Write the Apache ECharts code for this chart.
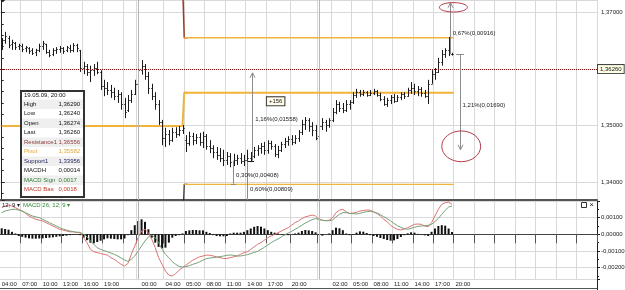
<!DOCTYPE html>
<html><head><meta charset="utf-8">
<script src="https://cdn.jsdelivr.net/npm/echarts@6/dist/echarts.min.js"></script>
<style>html,body{margin:0;padding:0;background:#fff}#c{width:625px;height:290px}</style>
</head><body><div id="c"></div>
<script>
// ---------- data ----------
const N_SLOTS = 175;                       // half-hour slots on the time axis
const gridIdx = [6,12,18,24,30,36,40,48,54,60,66,72,78,85,93,97,103,109,115,121,127,133,139,145,151,157,163,169];
const labelIdx = [0,6,12,18,24,30,41,48,54,60,66,72,78,85,97,103,109,115,121,127,133];
const labelText = ['04:00','07:00','10:00','13:00','16:00','19:00','00:00','04:00','05:00','08:00','11:00','14:00','17:00','20:00','02:00','05:00','08:00','11:00','14:00','17:00','20:00'];
const daySepIdx = [40, 93];

// OHLC bars: [open, close, low, high]
const ohlc = [
[1.3637,1.3652,1.3634,1.3655],[1.3652,1.3659,1.3645,1.3666],[1.3655,1.3643,1.3637,1.3659],[1.3645,1.3648,1.3634,1.3652],[1.3646,1.3639,1.3634,1.3648],
[1.3641,1.3643,1.3634,1.3645],[1.3641,1.3636,1.3630,1.3645],[1.3637,1.3639,1.3630,1.3641],[1.3637,1.3632,1.3627,1.3639],[1.3634,1.3629,1.3625,1.3637],
[1.3630,1.3634,1.3623,1.3636],[1.3634,1.3641,1.3630,1.3645],[1.3641,1.3646,1.3634,1.3650],[1.3645,1.3630,1.3627,1.3645],[1.3630,1.3625,1.3621,1.3634],
[1.3627,1.3634,1.3623,1.3637],[1.3634,1.3636,1.3627,1.3639],[1.3636,1.3637,1.3629,1.3641],[1.3637,1.3632,1.3627,1.3639],[1.3634,1.3639,1.3630,1.3641],
[1.3637,1.3634,1.3629,1.3643],[1.3634,1.3643,1.3630,1.3646],[1.3643,1.3637,1.3630,1.3645],[1.3634,1.3602,1.3595,1.3634],[1.3602,1.3606,1.3591,1.3613],
[1.3606,1.3595,1.3588,1.3609],[1.3595,1.3598,1.3577,1.3606],[1.3598,1.3602,1.3588,1.3609],[1.3602,1.3595,1.3591,1.3613],[1.3595,1.3570,1.3563,1.3598],
[1.3570,1.3567,1.3552,1.3581],[1.3567,1.3563,1.3554,1.3577],[1.3563,1.3559,1.3549,1.3572],[1.3559,1.3552,1.3545,1.3567],[1.3552,1.3556,1.3540,1.3563],
[1.3556,1.3538,1.3528,1.3559],[1.3538,1.3524,1.3513,1.3549],[1.3528,1.3545,1.3524,1.3554],[1.3545,1.3556,1.3540,1.3563],[1.3556,1.3574,1.3554,1.3581],
[1.3574,1.3598,1.3572,1.3606],[1.3598,1.3606,1.3590,1.3616],[1.3606,1.3588,1.3581,1.3609],[1.3588,1.3567,1.3556,1.3595],[1.3567,1.3552,1.3545,1.3574],
[1.3552,1.3538,1.3528,1.3559],[1.3538,1.3506,1.3501,1.3545],[1.3506,1.3478,1.3465,1.3510],[1.3478,1.3485,1.3462,1.3496],[1.3485,1.3474,1.3465,1.3492],
[1.3474,1.3489,1.3471,1.3496],[1.3489,1.3485,1.3478,1.3497],[1.3485,1.3492,1.3481,1.3499],[1.3492,1.3496,1.3485,1.3501],[1.3474,1.3469,1.3453,1.3483],
[1.3469,1.3481,1.3464,1.3489],[1.3481,1.3474,1.3465,1.3487],[1.3474,1.3480,1.3467,1.3485],[1.3480,1.3471,1.3464,1.3487],[1.3471,1.3481,1.3460,1.3489],
[1.3481,1.3464,1.3457,1.3485],[1.3464,1.3460,1.3451,1.3474],[1.3460,1.3453,1.3442,1.3465],[1.3453,1.3448,1.3439,1.3462],[1.3448,1.3442,1.3435,1.3460],
[1.3442,1.3439,1.3428,1.3457],[1.3439,1.3446,1.3430,1.3453],[1.3446,1.3435,1.3426,1.3451],[1.3435,1.3439,1.3428,1.3450],[1.3439,1.3442,1.3430,1.3448],
[1.3442,1.3437,1.3432,1.3451],[1.3437,1.3439,1.3428,1.3448],[1.3439,1.3442,1.3434,1.3457],[1.3442,1.3446,1.3435,1.3453],[1.3446,1.3457,1.3442,1.3462],
[1.3457,1.3460,1.3446,1.3465],[1.3460,1.3464,1.3450,1.3469],[1.3464,1.3457,1.3448,1.3471],[1.3457,1.3469,1.3450,1.3474],[1.3469,1.3464,1.3457,1.3473],
[1.3464,1.3450,1.3444,1.3467],[1.3450,1.3457,1.3442,1.3464],[1.3457,1.3467,1.3453,1.3471],[1.3467,1.3473,1.3460,1.3478],[1.3473,1.3476,1.3464,1.3481],
[1.3476,1.3471,1.3465,1.3483],[1.3471,1.3478,1.3467,1.3483],[1.3478,1.3489,1.3471,1.3492],[1.3489,1.3503,1.3483,1.3510],[1.3503,1.3510,1.3492,1.3515],
[1.3510,1.3499,1.3489,1.3513],[1.3499,1.3492,1.3481,1.3506],[1.3492,1.3478,1.3474,1.3501],[1.3481,1.3499,1.3478,1.3504],[1.3499,1.3506,1.3492,1.3513],
[1.3506,1.3501,1.3489,1.3510],[1.3501,1.3510,1.3496,1.3513],[1.3510,1.3524,1.3506,1.3531],[1.3524,1.3538,1.3520,1.3545],[1.3538,1.3531,1.3524,1.3542],
[1.3531,1.3528,1.3522,1.3540],[1.3528,1.3538,1.3524,1.3545],[1.3538,1.3542,1.3528,1.3545],[1.3542,1.3554,1.3538,1.3559],[1.3554,1.3559,1.3549,1.3565],
[1.3559,1.3556,1.3551,1.3563],[1.3556,1.3559,1.3552,1.3563],[1.3559,1.3554,1.3551,1.3561],[1.3554,1.3558,1.3552,1.3563],[1.3558,1.3561,1.3554,1.3565],
[1.3561,1.3554,1.3551,1.3563],[1.3554,1.3547,1.3543,1.3558],[1.3547,1.3538,1.3535,1.3552],[1.3538,1.3545,1.3533,1.3549],[1.3545,1.3551,1.3538,1.3554],
[1.3551,1.3543,1.3540,1.3556],[1.3543,1.3551,1.3542,1.3554],[1.3551,1.3556,1.3545,1.3559],[1.3556,1.3552,1.3547,1.3559],[1.3552,1.3563,1.3551,1.3567],
[1.3563,1.3567,1.3556,1.3577],[1.3567,1.3561,1.3554,1.3574],[1.3561,1.3565,1.3552,1.3570],[1.3565,1.3558,1.3551,1.3568],[1.3558,1.3552,1.3549,1.3563],
[1.3552,1.3574,1.3538,1.3581],[1.3574,1.3591,1.3574,1.3598],[1.3591,1.3595,1.3581,1.3602],[1.3595,1.3613,1.3593,1.3620],[1.3613,1.3627,1.3606,1.3634],
[1.3627,1.3634,1.3620,1.3637],[1.3634,1.3630,1.3623,1.3657],[1.36274,1.3626,1.3624,1.3629]
];

// daily pivot levels: [previous day, current day]
const dayStart = [0, 54];
const r1Levels = [1.3760, 1.36556];
const pivotLevels = [1.3499, 1.35582];
const s1Levels = [1.3310, 1.33956];

// MACD (units of 0.0001)
const MACD_UNIT = 1e-4;
const macdBase = [
16,17,17.5,17,16,15,14,12.5,11,10, 9,8.5,8,7,6,5,4,3,2.5,2,
1.5,1.5,1,1,-2,-5,-9,-10.5,-11,-11.5, -12,-12.5,-14,-15,-16.5,-18,-19,-17.5,-12,-7,
-2,2,3,1,-3,-8,-14,-18,-22,-24.5, -25,-23.5,-21.5,-20,-18.5,-17,-15.5,-14.5,-13.5,-13,
-12.5,-12.5,-13,-13.5,-14,-14.5,-14.5,-14,-13.5,-13, -12,-11,-10.5,-9,-7.5,-6,-5,-3.5,-2,-1,
0,1,2,3,4,5.5,7,8,9.5,10.5, 11,11.6,11,9,8.5,8.2,8.5,10,13,14.5,
15,13.5,12.5,12.8,13.2,14,14.3,14.6,14.5,13.5, 12.5,11,9,7.5,5.5,4,3,2.6,3.2,4,
5,6,6.2,6,5,4.5,7,11,15,18, 19,19.4,18];
const macdSignal = [
13,14,14.5,15,15,14.5,14,13,12,11, 10.5,10,9,8,7,6,5,4,3.2,2.6,
2,1.6,1.3,1.2,0,-1.4,-4,-6,-8,-9, -9.8,-10.4,-11.2,-12,-13,-14.2,-15.4,-16.2,-15,-13,
-10,-7,-4,-1.5,-0.5,-2,-5,-9,-12,-14, -16.4,-18,-19.2,-19.6,-19.4,-18.8,-18,-17.4,-16.5,-15.5,
-14.6,-14.2,-14,-13.7,-13.4,-13,-12.6,-12.4,-12.6,-13, -13,-12.6,-12.2,-11.6,-10.8,-10.2,-9,-7.8,-6.4,-5,
-3.8,-2.8,-1.5,-0.2,0.8,1.8,3,4.2,5.5,6.8, 7.8,8.8,9.4,9,8.4,8.2,8.2,8.6,10.5,12,
13,13,12.6,12.4,12.2,12.6,13.2,13.6,13.8,13.4, 12.8,11.8,10.6,9.4,8,6.5,5.2,4.2,3.4,3,
3.6,4.2,4.8,5,5.2,5.4,6,7.6,9.6,12, 14.4,16.4,17];
const macdHist = [
3.6,3.2,2.8,1.5,0.5,-1,-1.5,-2,-2.4,-2.6, -2.6,-2.5,-2.4,-2.2,-2,-1.8,-1.5,-1.2,-1,-0.8,
-0.5,-0.3,-0.2,-0.5,-2,-3.5,-5,-5.4,-4.6,-3.8, -3,-2.4,-2.6,-2.8,-3,-3,-2.5,-0.5,2.5,5.5,
8,9,7.5,3,-2,-5,-7.5,-8.4,-8,-5, -2,-1,-0.5,0.5,2,2.4,2.6,2.6,2.4,2.4,
1.5,0.8,-0.5,-1,-1.2,-1.2,-1,0.5,1,1, 1,1.5,2.5,3.5,4.5,5,4.6,3.5,2.5,1.5,
1,0.5,0,-0.5,-0.5,0,0.5,1,2,2.6, 2.4,2,1.2,-0.5,-0.8,0,0.5,2.5,4,3.6,
2.5,0.5,-0.5,-0.3,1,1.8,1.6,0.8,-0.5,-1, -1.5,-2.2,-2.8,-3.4,-3.8,-3.6,-2.8,-1.6,-0.5,0.6,
1.2,1,0.3,-0.3,-0.6,-1,1.5,3.5,5,5.5, 5.2,3.5,1.4];

// drawing annotations (bar position, price)
const measureLines = [[73.3,1.34376,1.35934,1],[72.0,1.34376,1.33567,0],[67.9,1.34376,1.33968,0],[131.4,1.3626,1.37176,1],[134.4,1.3626,1.3457,1]];
const capTicks = [[67.2,68.6,1.33968],[133.2,135.5,1.3626]];
const baseCross = [[72.0,74.0,1.34376]];
const measureLabels = [[74.3,1.3511,'1,16%(0,01558)'],[68.7,1.3411,'0,30%(0,00408)'],[72.8,1.33869,'0,60%(0,00809)'],[132.2,1.36635,'0,67%(0,00916)'],[135.1,1.35358,'1,21%(0,01690)']];
const boxLabels = [[80.3,1.35429,'+156']];
const circles = [[128.3,136.5,1.37179,1.37012],[129.0,140.4,1.34903,1.34358]];

// info panel
const infoHeader = '19.05.09, 20:00';
const infoLabels = ['High','Low','Open','Last','Resistance1','Pivot','Support1','MACDH','MACD Sign','MACD Bas'];
const infoValues = ['1,36290','1,36240','1,36274','1,36260','1,36556','1,35582','1,33956','0,00014','0,0017','0,0018'];
const infoColors = ['#111','#111','#111','#111','#8e3b3b','#e0a63a','#24245e','#111','#2f7d32','#c0392b'];

// ---------- build ----------
const FONT = 'Liberation Sans, Arial, sans-serif';
const N = ohlc.length;
const cats = Array.from({length: N_SLOTS}, (_, i) => String(i));
const gridSet = new Set(gridIdx);
const labelMap = {}; labelIdx.forEach((k, j) => labelMap[k] = labelText[j]);
const fmt5 = v => (Math.abs(v) < 1e-12 ? 0 : v).toFixed(5).replace('.', ',');
const lastClose = ohlc[N - 1][1];
const ORANGE = '#f0b43c';

function levelData(vals, part) {
  return cats.map((_, i) => {
    if (i > N - 1) return null;
    if (part === 0) return i < dayStart[1] ? vals[0] : (i === dayStart[1] ? vals[1] : null);
    return i >= dayStart[1] ? vals[1] : null;
  });
}
function lvl(vals, part, color, width, extra) {
  return Object.assign({type:'line', xAxisIndex:0, yAxisIndex:0, data: levelData(vals, part), step:'middle',
    symbol:'none', silent:true, z:2, lineStyle:{color, width}}, extra || {});
}
const txt = (text, fill, extra) => Object.assign({text, fill, fontSize:6, fontFamily:FONT, verticalAlign:'middle', align:'left'}, extra || {});

function clampY(y, cs) { return Math.max(cs.y, Math.min(cs.y + cs.height, y)); }

const series = [
  lvl(r1Levels, 0, '#9b3b25', 1.5),
  lvl(r1Levels, 1, ORANGE, 1.5),
  lvl(pivotLevels, 0, ORANGE, 2, {markLine:{silent:true, symbol:['none','none'], animation:false,
     data: daySepIdx.map(k => ({xAxis: k, lineStyle:{color:'#b5b5b5', width:1, type:'solid'}, label:{show:false}}))}}),
  lvl(pivotLevels, 1, ORANGE, 2, {markLine:{silent:true, symbol:['none','none'], animation:false,
     data:[{yAxis: lastClose}], lineStyle:{type:'dotted', color:'#7a1414', width:1},
     label:{show:true, position:'end', distance:1, formatter: () => fmt5(lastClose), fontSize:6, fontFamily:FONT, color:'#111',
       backgroundColor:'#ffffe6', borderColor:'#444', borderWidth:1, padding:[1,2,1,2]}}}),
  lvl(s1Levels, 0, '#222', 1.2),
  lvl(s1Levels, 1, ORANGE, 1.2),
  { // OHLC bars
    type:'custom', xAxisIndex:0, yAxisIndex:0, silent:true, z:4,
    data: ohlc.map((d, i) => [i, d[0], d[1], d[2], d[3]]),
    encode:{x:0, y:[1,2,3,4]},
    renderItem(params, api) {
      const i = api.value(0);
      const po = api.coord([i, api.value(1)]), pc = api.coord([i, api.value(2)]);
      const pl = api.coord([i, api.value(3)]), ph = api.coord([i, api.value(4)]);
      const x = Math.round(po[0]) + 0.5;
      const st = {stroke:'#1a1a1a', lineWidth:1};
      const yo = Math.round(po[1]) + 0.5, yc = Math.round(pc[1]) + 0.5;
      return {type:'group', children:[
        {type:'line', shape:{x1:x, y1:pl[1], x2:x, y2:ph[1]}, style:st},
        {type:'line', shape:{x1:x-1.2, y1:yo, x2:x, y2:yo}, style:st},
        {type:'line', shape:{x1:x, y1:yc, x2:x+1.2, y2:yc}, style:st}
      ]};
    }
  },
  { // measurement lines
    type:'custom', xAxisIndex:2, yAxisIndex:0, silent:true, z:5, clip:true,
    data: measureLines,
    renderItem(params, api) {
      const cs = params.coordSys;
      const a = api.coord([api.value(0), api.value(1)]);
      const b = api.coord([api.value(0), api.value(2)]);
      const X = Math.round(a[0]) + 0.5;
      const y1 = clampY(a[1], cs), y2 = clampY(b[1], cs);
      const st = {stroke:'#8c8c8c', lineWidth:1, fill:null};
      const ch = [{type:'line', shape:{x1:X, y1, x2:X, y2}, style:st}];
      if (api.value(3) === 1) {
        const d = b[1] < a[1] ? 1 : -1;
        ch.push({type:'polyline', shape:{points:[[X-2.5, y2 + 5*d],[X, y2],[X+2.5, y2 + 5*d]]}, style:st});
      }
      return {type:'group', children:ch};
    }
  },
  { // small horizontal caps
    type:'custom', xAxisIndex:2, yAxisIndex:0, silent:true, z:5,
    data: capTicks,
    renderItem(params, api) {
      const a = api.coord([api.value(0), api.value(2)]), b = api.coord([api.value(1), api.value(2)]);
      const y = Math.round(a[1]) + 0.5;
      return {type:'line', shape:{x1:a[0], y1:y, x2:b[0], y2:y}, style:{stroke:'#8c8c8c', lineWidth:1}};
    }
  },
  { // base cross
    type:'custom', xAxisIndex:2, yAxisIndex:0, silent:true, z:6,
    data: baseCross,
    renderItem(params, api) {
      const a = api.coord([api.value(0), api.value(2)]), b = api.coord([api.value(1), api.value(2)]);
      const y = Math.round(a[1]) + 0.5;
      return {type:'line', shape:{x1:a[0], y1:y, x2:b[0], y2:y}, style:{stroke:'#222', lineWidth:1}};
    }
  },
  { // measurement texts
    type:'custom', xAxisIndex:2, yAxisIndex:0, silent:true, z:6,
    data: measureLabels.map(d => [d[0], d[1]]),
    renderItem(params, api) {
      const p = api.coord([api.value(0), api.value(1)]);
      return {type:'text', x:p[0], y:p[1], style: txt(measureLabels[params.dataIndex][2], '#222')};
    }
  },
  { // boxed label
    type:'custom', xAxisIndex:2, yAxisIndex:0, silent:true, z:6,
    data: boxLabels.map(d => [d[0], d[1]]),
    renderItem(params, api) {
      const p = api.coord([api.value(0), api.value(1)]);
      return {type:'text', x:p[0], y:p[1], style: txt(boxLabels[params.dataIndex][2], '#222',
        {align:'center', backgroundColor:'#fffbe8', borderColor:'#333', borderWidth:1, padding:[1,2,1,2]})};
    }
  },
  { // red ellipses
    type:'custom', xAxisIndex:2, yAxisIndex:0, silent:true, z:6,
    data: circles,
    renderItem(params, api) {
      const a = api.coord([api.value(0), api.value(2)]), b = api.coord([api.value(1), api.value(3)]);
      return {type:'ellipse', shape:{cx:(a[0]+b[0])/2, cy:(a[1]+b[1])/2, rx:Math.abs(b[0]-a[0])/2, ry:Math.abs(b[1]-a[1])/2},
        style:{stroke:'#b33a48', fill:null, lineWidth:1}};
    }
  },
  { type:'bar', xAxisIndex:1, yAxisIndex:1, data: macdHist.map(v => v * MACD_UNIT), barWidth:2, silent:true,
    itemStyle:{color:'#111'}, z:2,
    markLine:{silent:true, symbol:['none','none'], animation:false, label:{show:false},
      data: daySepIdx.map(k => ({xAxis:k})), lineStyle:{color:'#b5b5b5', width:1, type:'solid'}} },
  { type:'line', xAxisIndex:1, yAxisIndex:1, data: macdBase.map(v => v * MACD_UNIT), symbol:'none', silent:true, z:3,
    lineStyle:{color:'#dc7272', width:1} },
  { type:'line', xAxisIndex:1, yAxisIndex:1, data: macdSignal.map(v => v * MACD_UNIT), symbol:'none', silent:true, z:3,
    lineStyle:{color:'#789f78', width:1} }
];

// info panel graphic
const g = [];
const bx = 21, by = 91, bw = 63, bh = 106, rowH = 9.48, row0 = 104.3;
g.push({type:'rect', shape:{x:bx, y:by, width:bw, height:bh}, style:{fill:'#fff', stroke:'#333', lineWidth:2}, z:100});
infoLabels.forEach((lab, k) => {
  const cy = row0 + k * rowH;
  if (k % 2 === 0) g.push({type:'rect', shape:{x:bx+1, y:cy - rowH/2, width:bw-2, height:rowH}, style:{fill:'#efefef'}, z:100});
  g.push({type:'text', x:24, y:cy, style: txt(lab, infoColors[k]), z:101});
  g.push({type:'text', x:58.5, y:cy, style: txt(infoValues[k], infoColors[k]), z:101});
});
g.push({type:'text', x:24, y:95.7, style: txt(infoHeader, '#111'), z:101});
// MACD panel titles and icons
g.push({type:'text', x:20, y:205, style: txt('MACDH 26; 12; 9 \u25BE', '#222', {align:'right'}), z:101});
g.push({type:'text', x:23, y:205, style: txt('MACD 26; 12; 9 \u25BE', '#2e8b2e'), z:101});
g.push({type:'rect', shape:{x:581.5, y:202.5, width:5, height:5}, style:{fill:'#fff', stroke:'#333', lineWidth:1}, z:101});
g.push({type:'text', x:591.5, y:205, style: txt('\u00D7', '#222', {align:'center', fontSize:8}), z:101});
// bottom strip lines
g.push({type:'line', shape:{x1:0, y1:288.5, x2:597, y2:288.5}, style:{stroke:'#555', lineWidth:1}, z:100});
g.push({type:'line', shape:{x1:597.5, y1:279, x2:597.5, y2:290}, style:{stroke:'#222', lineWidth:1}, z:100});

const splitCommon = {show:true, interval:(i) => gridSet.has(i), lineStyle:{color:'#d9d9d9', width:1}};
const option = {
  animation:false,
  textStyle:{fontFamily:FONT},
  grid:[
    {left:0, top:0, width:597, height:200, outerBoundsMode:'none'},
    {left:0, top:201, width:597, height:78, outerBoundsMode:'none'}
  ],
  xAxis:[
    {type:'category', gridIndex:0, data:cats, boundaryGap:true,
     axisLine:{show:true, lineStyle:{color:'#555', width:2}}, axisTick:{show:false}, axisLabel:{show:false},
     splitLine: splitCommon},
    {type:'category', gridIndex:1, data:cats, boundaryGap:true,
     axisLine:{show:true, lineStyle:{color:'#444', width:1}},
     axisTick:{show:true, interval:(i) => gridSet.has(i), length:9, lineStyle:{color:'#555'}},
     axisLabel:{show:true, interval:(i) => labelMap[i] !== undefined, formatter:(v) => labelMap[Number(v)] || '',
       align:'left', fontSize:6, color:'#222', margin:2, fontFamily:FONT},
     splitLine: splitCommon},
    {type:'value', gridIndex:0, min:-0.5, max:N_SLOTS - 0.5, show:false}
  ],
  yAxis:[
    {type:'value', gridIndex:0, position:'right', min:1.33679, max:1.37225, splitNumber:4, scale:true,
     axisLine:{show:true, lineStyle:{color:'#222'}}, axisTick:{show:true, length:3, lineStyle:{color:'#222'}},
     minorTick:{show:true, splitNumber:5, length:2, lineStyle:{color:'#222'}},
     axisLabel:{formatter:fmt5, fontSize:6, color:'#222', margin:4, showMinLabel:false, showMaxLabel:false, fontFamily:FONT},
     splitLine:{show:true, lineStyle:{color:'#d9d9d9'}}},
    {type:'value', gridIndex:1, position:'right', min:-0.00268, max:0.002, splitNumber:5,
     axisLine:{show:true, lineStyle:{color:'#222'}}, axisTick:{show:true, length:3, lineStyle:{color:'#222'}},
     minorTick:{show:true, splitNumber:2, length:2, lineStyle:{color:'#222'}},
     axisLabel:{formatter:fmt5, fontSize:6, color:'#222', margin:4, showMinLabel:false, showMaxLabel:false, fontFamily:FONT},
     splitLine:{show:true, lineStyle:{color:'#d9d9d9'}}}
  ],
  series,
  graphic: g
};
const chart = echarts.init(document.getElementById('c'), null, {renderer:'canvas'});
chart.setOption(option);
</script></body></html>
